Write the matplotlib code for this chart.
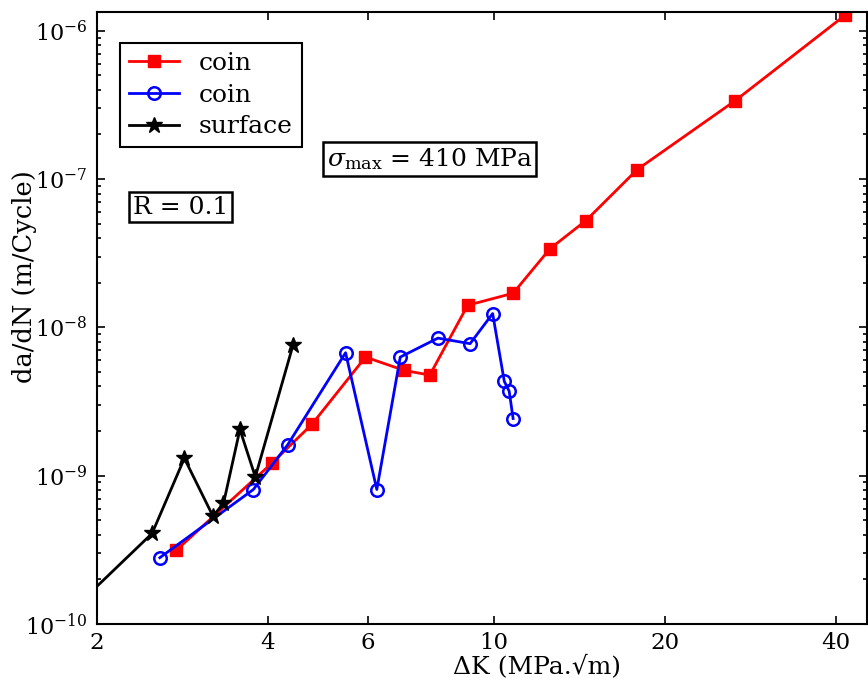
import matplotlib
matplotlib.use("Agg")
import matplotlib.pyplot as plt
from matplotlib.ticker import LogLocator, FixedLocator, NullLocator, FixedFormatter

plt.rcParams['font.family'] = 'DejaVu Serif'
plt.rcParams['mathtext.fontset'] = 'dejavuserif'

# red squares (coin)
coin1_dk = [2.76, 4.06, 4.78, 5.94, 6.95, 7.71, 8.99, 10.81, 12.55, 14.52, 17.88, 26.6, 41.6]
coin1_rate = [3.15e-10, 1.21e-9, 2.22e-9, 6.31e-9, 5.13e-9, 4.77e-9, 1.41e-8, 1.70e-8,
              3.39e-8, 5.25e-8, 1.16e-7, 3.38e-7, 1.28e-6]

# blue open circles (coin)
coin2_dk = [2.58, 3.77, 4.33, 5.48, 6.22, 6.84, 7.97, 9.08, 9.95, 10.43, 10.64, 10.81]
coin2_rate = [2.80e-10, 8.07e-10, 1.61e-9, 6.75e-9, 8.07e-10, 6.31e-9, 8.47e-9, 7.77e-9,
              1.24e-8, 4.33e-9, 3.71e-9, 2.43e-9]

# black stars (surface)
surf_dk = [1.8, 2.50, 2.85, 3.20, 3.34, 3.57, 3.80, 4.43]
surf_rate = [1.22e-10, 4.08e-10, 1.31e-9, 5.34e-10, 6.50e-10, 2.05e-9, 9.82e-10, 7.65e-9]

xticks = [2, 4, 6, 10, 20, 40]
xticklabels = ['2', '4', '6', '10', '20', '40']

fig = plt.figure(figsize=(8.68, 6.86), dpi=100)
ax = fig.add_axes([0.1118, 0.0904, 0.887, 0.8921])

ax.plot(coin1_dk, coin1_rate, '-s', color='red', lw=2.0, ms=9, mec='red', mfc='red', label='coin')
ax.plot(coin2_dk, coin2_rate, '-o', color='blue', lw=2.0, ms=9, mec='blue', mfc='none', mew=1.8, label='coin')
ax.plot(surf_dk, surf_rate, '-*', color='black', lw=2.0, ms=12, label='surface')

ax.set_xscale('log')
ax.set_yscale('log')
ax.set_xlim(2, 45.4)
ax.set_ylim(1e-10, 1.34e-6)

ax.xaxis.set_major_locator(FixedLocator(xticks))
ax.xaxis.set_major_formatter(FixedFormatter(xticklabels))
ax.xaxis.set_minor_locator(NullLocator())
ax.yaxis.set_major_locator(LogLocator(base=10))
ax.yaxis.set_minor_locator(LogLocator(base=10, subs=range(2, 10)))

ax.tick_params(which='both', direction='in', top=True, right=True, width=1.2)
ax.tick_params(axis='x', which='major', length=6, pad=6, labelsize=16.5)
ax.tick_params(axis='y', which='major', length=6, pad=7, labelsize=16)
ax.tick_params(axis='y', which='minor', length=3)
for s in ax.spines.values():
    s.set_linewidth(1.5)

ax.set_xlabel('ΔK (MPa.√m)', fontsize=18)
ax.xaxis.set_label_coords(0.571, -0.05)
ax.set_ylabel('da/dN (m/Cycle)', fontsize=18.5)
ax.yaxis.set_label_coords(-0.078, 0.567)

leg = ax.legend(loc='upper left', bbox_to_anchor=(0.03, 0.949), fontsize=18, numpoints=1,
                fancybox=False, edgecolor='black', framealpha=1, borderaxespad=0,
                handlelength=2.0, labelspacing=0.35, borderpad=0.35)
leg.get_frame().set_linewidth(1.5)

box = dict(boxstyle='square,pad=0.15', fc='white', ec='black', lw=1.8)
ax.text(0.108, 0.681, 'R = 0.1', transform=ax.transAxes, fontsize=18,
        ha='center', va='center', bbox=box)
ax.text(0.432, 0.760, r'$\sigma_{\mathrm{max}}$ = 410 MPa', transform=ax.transAxes, fontsize=18,
        ha='center', va='center', bbox=box)

fig.savefig('out.png', dpi=100)
